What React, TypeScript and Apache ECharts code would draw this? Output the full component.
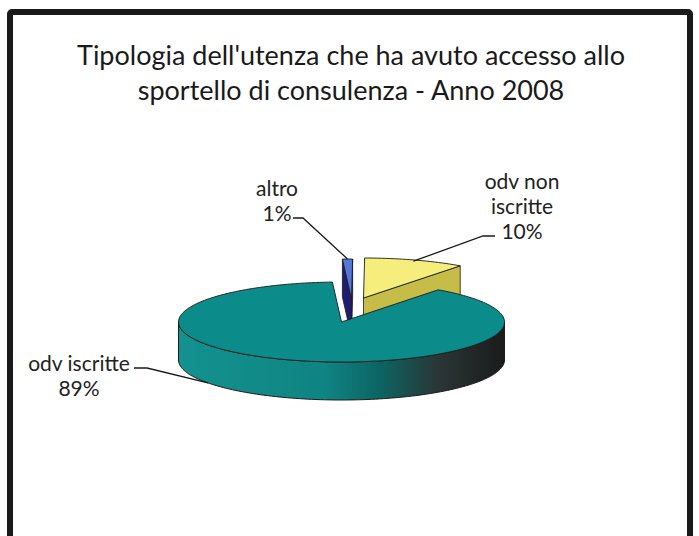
import React, { useEffect, useRef } from "react";
import * as echarts from "echarts";

// ---- data (clockwise from the top of the pie) ----
const CATEGORIES = ["altro", "odv non iscritte", "odv iscritte"];
const VALUES = [1, 10, 89];
const LABEL_TEXT = ["altro", "odv non\niscritte", "odv iscritte"];
const TITLE = "Tipologia dell'utenza che ha avuto accesso allo\nsportello di consulenza - Anno 2008";

// ---- styles / layout ----
const CX = 341.5;
const CY = 322;
const RX = 163;
const RY = 40;
const DEPTH = 38;
const START_DEG = -3.2;
const EXPLODE = [
  [10, -23],
  [22, -24],
  [0, 0],
];
const TOP_COLORS = ["#5577d8", "#f5ee7c", "#0b8b89"];
const SIDE_COLORS = ["#1e1c72", "#c6bd48", "#0b6f6d"];
const LABEL_POS = [
  [277, 200],
  [522, 205],
  [79, 375],
];
const LEADER_START = [
  [[293, 218], [303, 218]],
  [[495, 236], [483, 236]],
  [[134, 368], [147, 368]],
];
const LEADER_TARGET = [
  { deg: null, f: 1, d: 0 },
  { deg: null, f: 0.97, d: 0 },
  { deg: 235, f: 1, d: 1 },
];
const FONT = "Lato, 'Open Sans', sans-serif";

const rad = (d: number) => (d * Math.PI) / 180;

function pt(deg: number, f: number, dx: number, dy: number, down: number): number[] {
  return [CX + dx + RX * f * Math.sin(rad(deg)), CY + dy - RY * f * Math.cos(rad(deg)) + down];
}

function arc(a0: number, a1: number, dx: number, dy: number, down: number): number[][] {
  const pts: number[][] = [];
  const n = Math.max(2, Math.ceil(Math.abs(a1 - a0) / 1.5));
  for (let k = 0; k <= n; k++) {
    const a = a0 + ((a1 - a0) * k) / n;
    pts.push(pt(a, 1, dx, dy, down));
  }
  return pts;
}

export default function App() {
  const ref = useRef<HTMLDivElement>(null);

  useEffect(() => {
    if (!ref.current) return;
    const chart = echarts.init(ref.current, undefined, { renderer: "svg" });
    const total = VALUES.reduce((s, v) => s + v, 0);
    const angles: number[][] = [];
    let acc = START_DEG;
    VALUES.forEach((v) => {
      const span = (v / total) * 360;
      angles.push([acc, acc + span]);
      acc += span;
    });

    const renderItem = (params: any) => {
      const i = params.dataIndex;
      const [a0, a1] = angles[i];
      const [dx, dy] = EXPLODE[i];
      const mid = (a0 + a1) / 2;
      const front = -Math.cos(rad(mid));
      const base = Math.round(front * 100) + 200;
      const apex = [CX + dx, CY + dy];
      const apexD = [CX + dx, CY + dy + DEPTH];
      const stroke = "#1c1c1c";
      const children: any[] = [];

      const faceAt = (a: number) => {
        const p = pt(a, 1, dx, dy, 0);
        const pd = pt(a, 1, dx, dy, DEPTH);
        return [apex, p, pd, apexD];
      };
      if (Math.sin(rad(a0)) < -1e-6) {
        children.push({
          type: "polygon",
          z2: base,
          shape: { points: faceAt(a0) },
          style: { fill: SIDE_COLORS[i], stroke, lineWidth: 0.8 },
        });
      }
      if (Math.sin(rad(a1)) > 1e-6) {
        children.push({
          type: "polygon",
          z2: base + 1,
          shape: { points: faceAt(a1) },
          style: { fill: SIDE_COLORS[i], stroke, lineWidth: 0.8 },
        });
      }
      const lo = Math.max(a0, 90);
      const hi = Math.min(a1, 270);
      if (hi > lo) {
        const topArc = arc(lo, hi, dx, dy, 0);
        const botArc = arc(hi, lo, dx, dy, DEPTH);
        children.push({
          type: "polygon",
          z2: base + 2,
          shape: { points: topArc.concat(botArc) },
          style: {
            fill: new echarts.graphic.LinearGradient(1, 0, 0, 0, [
              { offset: 0, color: "#1b1b1b" },
              { offset: 0.2, color: "#2a3535" },
              { offset: 0.38, color: "#0c6462" },
              { offset: 0.55, color: "#0f8482" },
              { offset: 1, color: "#13928f" },
            ]),
            stroke,
            lineWidth: 1,
          },
        });
      }
      children.push({
        type: "polygon",
        z2: base + 3,
        shape: { points: [apex].concat(arc(a0, a1, dx, dy, 0)) },
        style: { fill: TOP_COLORS[i], stroke, lineWidth: 0.9 },
      });

      const pct = Math.round((VALUES[i] / total) * 100) + "%";
      const tgt = LEADER_TARGET[i];
      const end = pt(tgt.deg === null ? mid : tgt.deg, tgt.f, dx, dy, tgt.d * DEPTH);
      children.push({
        type: "polyline",
        z2: 900,
        shape: { points: [LEADER_START[i][0], LEADER_START[i][1], end] },
        style: { stroke: "#1a1a1a", lineWidth: 1.3, fill: null },
      });
      children.push({
        type: "text",
        z2: 901,
        x: LABEL_POS[i][0],
        y: LABEL_POS[i][1],
        style: {
          text: LABEL_TEXT[i] + "\n" + pct,
          fill: "#222222",
          font: `21px ${FONT}`,
          align: "center",
          verticalAlign: "middle",
          lineHeight: 25,
        },
      });
      return { type: "group", children };
    };

    chart.setOption({
      animation: false,
      backgroundColor: "#ffffff",
      graphic: [
        {
          type: "text",
          z: 100,
          x: 351,
          y: 37,
          style: {
            text: TITLE,
            fill: "#1a1a1a",
            font: `27px ${FONT}`,
            align: "center",
            verticalAlign: "top",
            lineHeight: 35,
          },
        },
        {
          type: "rect",
          z: 100,
          shape: { x: 10, y: 12, width: 680, height: 600, r: 2 },
          style: { fill: null, stroke: "#1a1a1a", lineWidth: 6 },
        },
      ],
      series: [
        {
          type: "custom",
          coordinateSystem: "none",
          renderItem,
          data: VALUES.map((v, i) => ({ name: CATEGORIES[i], value: v })),
        },
      ],
    });
    return () => chart.dispose();
  }, []);

  return (
    <div
      ref={ref}
      style={{ position: "fixed", left: 0, top: 0, width: 699, height: 536, background: "#fff" }}
    />
  );
}
